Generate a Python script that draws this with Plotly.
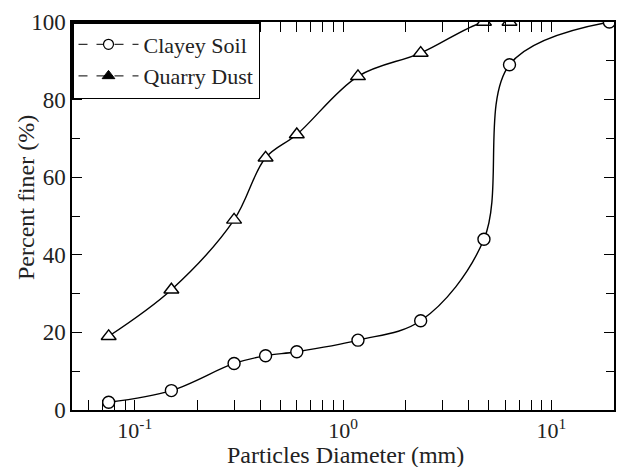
import plotly.graph_objects as go

sieve_clay = [0.075, 0.15, 0.3, 0.425, 0.6, 1.18, 2.36, 4.75, 6.3, 19]
finer_clay = [2, 5, 12, 14, 15, 18, 23, 44, 89, 100]
sieve_dust = [0.075, 0.15, 0.3, 0.425, 0.6, 1.18, 2.36, 4.75, 6.3]
finer_dust = [19, 31, 49, 65, 71, 86, 92, 100, 100]

decades = [0.1, 1, 10]
decade_labels = ["10<sup>-1</sup>", "10<sup>0</sup>", "10<sup>1</sup>"]

FONT = "Liberation Serif"

minor_vals = []
for base in [0.01, 0.1, 1, 10]:
    for m in range(2, 10):
        v = round(base * m, 6)
        if 0.05 <= v <= 20:
            minor_vals.append(v)

fig = go.Figure()
fig.add_trace(go.Scatter(
    x=sieve_clay, y=finer_clay, mode="lines+markers", showlegend=False,
    line=dict(color="black", width=1.4, shape="spline", smoothing=1.0),
    marker=dict(symbol="circle", size=12, color="white", line=dict(color="black", width=1.4)),
))
fig.add_trace(go.Scatter(
    x=sieve_dust, y=finer_dust, mode="lines+markers", showlegend=False,
    line=dict(color="black", width=1.4, shape="spline", smoothing=1.0),
    marker=dict(symbol="triangle-up", size=13, color="white", line=dict(color="black", width=1.4)),
))
# legend entries
fig.add_trace(go.Scatter(
    x=[None], y=[None], mode="lines+markers", name="Clayey Soil",
    line=dict(color="black", width=1, dash="dash"),
    marker=dict(symbol="circle", size=10, color="white", line=dict(color="black", width=1.2)),
))
fig.add_trace(go.Scatter(
    x=[None], y=[None], mode="lines+markers", name="Quarry Dust",
    line=dict(color="black", width=1, dash="dash"),
    marker=dict(symbol="triangle-up", size=11, color="black", line=dict(color="black", width=1)),
))

fig.update_layout(
    width=627, height=467,
    margin=dict(l=64, r=21, t=14, b=65),
    paper_bgcolor="white", plot_bgcolor="white",
    font=dict(family=FONT, size=23, color="#222"),
    legend=dict(x=0, y=1, xanchor="left", yanchor="top", bgcolor="white",
                bordercolor="black", borderwidth=1.5, itemwidth=60,
                font=dict(family=FONT, size=22), tracegroupgap=0),
    xaxis=dict(
        type="log", range=[-1.301, 1.301], automargin=False,
        tickmode="array", tickvals=decades, ticktext=decade_labels,
        ticks="inside", ticklen=10, tickwidth=1.3, tickcolor="black",
        minor=dict(tickmode="array", tickvals=minor_vals, ticks="inside",
                   ticklen=10, tickwidth=1.3, tickcolor="black", showgrid=False),
        showline=True, linecolor="black", linewidth=1.5, mirror="ticks",
        showgrid=False, zeroline=False,
        tickfont=dict(size=22),
    ),
    yaxis=dict(
        range=[0, 100], dtick=20, automargin=False,
        ticks="inside", ticklen=10, tickwidth=1.3, tickcolor="black",
        minor=dict(dtick=10, ticks="inside", ticklen=8, tickwidth=1.3, tickcolor="black"),
        showline=True, linecolor="black", linewidth=1.5, mirror="ticks",
        showgrid=False, zeroline=False,
        tickfont=dict(size=23),
    ),
    annotations=[
        dict(text="Particles Diameter (mm)", xref="paper", yref="paper",
             x=(345 - 72) / 542, y=0,
             xanchor="center", yanchor="middle", yshift=-45, showarrow=False,
             font=dict(family=FONT, size=24, color="#222")),
        dict(text="Percent finer (%)", xref="paper", yref="paper",
             x=0, y=(410 - 198) / 388, xanchor="center", yanchor="middle",
             xshift=-46, textangle=-90, showarrow=False,
             font=dict(family=FONT, size=24, color="#222")),
    ],
)

fig.write_html("out.html")
